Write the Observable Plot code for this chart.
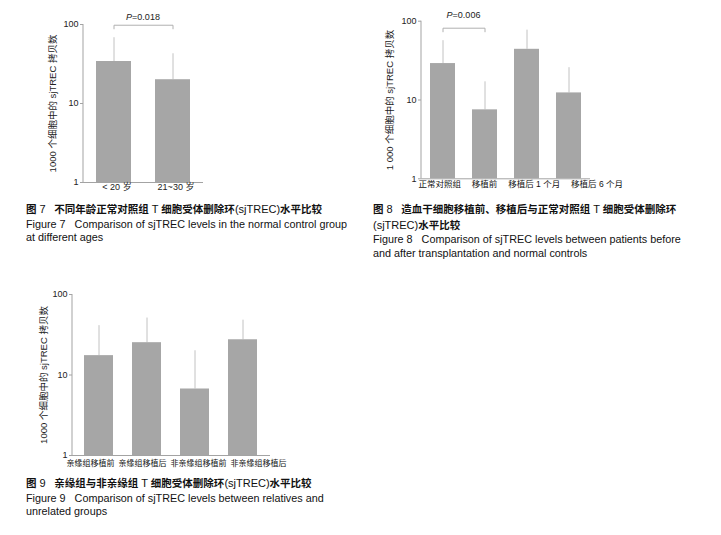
<!DOCTYPE html>
<html>
<head>
<meta charset="utf-8">
<script src="https://cdn.jsdelivr.net/npm/d3@7"></script>
<script src="https://cdn.jsdelivr.net/npm/@observablehq/plot@0.6"></script>
<style>
  html, body { margin: 0; padding: 0; background: #fff; }
  body { width: 721px; height: 535px; position: relative; overflow: hidden;
         font-family: "Liberation Sans", Arial, "Noto Sans CJK SC", sans-serif; color: #111; }
  .panel { position: absolute; }
  .cap { position: absolute; white-space: nowrap; }
  .cap .zh { font-size: 10.5px; font-weight: bold; line-height: 15.5px; }
  .cap .zh .n { font-weight: normal; font-size: 11px; }
  .cap .en { font-size: 10.8px; line-height: 13.75px; }
</style>
</head>
<body>
<div id="fig7" class="panel" style="left:0px; top:0px"></div>
<div class="cap" style="left:26px; top:202px">
  <div class="zh">图 <span class="n">7</span>&nbsp;&nbsp;&nbsp;不同年龄正常对照组 <span class="n">T</span> 细胞受体删除环<span class="n">(sjTREC)</span>水平比较</div>
  <div class="en">Figure 7&nbsp;&nbsp;&nbsp;Comparison of sjTREC levels in the normal control group<br>at different ages</div>
</div>

<div id="fig8" class="panel" style="left:360px; top:0px"></div>
<div class="cap" style="left:373px; top:202px">
  <div class="zh">图 <span class="n">8</span>&nbsp;&nbsp;&nbsp;造血干细胞移植前、移植后与正常对照组 <span class="n">T</span> 细胞受体删除环<br><span class="n">(sjTREC)</span>水平比较</div>
  <div class="en">Figure 8&nbsp;&nbsp;&nbsp;Comparison of sjTREC levels between patients before<br>and after transplantation and normal controls</div>
</div>

<div id="fig9" class="panel" style="left:0px; top:280px"></div>
<div class="cap" style="left:26px; top:476px">
  <div class="zh">图 <span class="n">9</span>&nbsp;&nbsp;&nbsp;亲缘组与非亲缘组 <span class="n">T</span> 细胞受体删除环<span class="n">(sjTREC)</span>水平比较</div>
  <div class="en">Figure 9&nbsp;&nbsp;&nbsp;Comparison of sjTREC levels between relatives and<br>unrelated groups</div>
</div>

<script>
// ---------- data ----------
const yTicks = [1, 10, 100];

const fig7Groups = ["< 20 岁", "21~30 岁"];
const fig7Mean   = [34, 20];
const fig7Upper  = [68, 42.6];
const fig7SigPair = ["< 20 岁", "21~30 岁"];
const fig7P = "0.018";
const fig7YLabel = "1000 个细胞中的 sjTREC 拷贝数";

const fig8Groups = ["正常对照组", "移植前", "移植后 1 个月", "移植后 6 个月"];
const fig8Mean   = [29, 7.5, 44, 12.3];
const fig8Upper  = [56.6, 17, 77, 25.7];
const fig8SigPair = ["正常对照组", "移植前"];
const fig8P = "0.006";
const fig8YLabel = "1 000 个细胞中的 sjTREC 拷贝数";

const fig9Groups = ["亲缘组移植前", "亲缘组移植后", "非亲缘组移植前", "非亲缘组移植后"];
const fig9Mean   = [17.4, 25.2, 6.7, 27.4];
const fig9Upper  = [41, 51, 20, 48];
const fig9YLabel = "1000 个细胞中的 sjTREC 拷贝数";

// ---------- styles ----------
const barColor = "#a6a6a6";
const errColor = "#c2c2c2";
const axisColor = "#a3a3a3";
const bracketColor = "#b0b0b0";
const fontFamily = '"Liberation Sans", Arial, "Noto Sans CJK SC", sans-serif';

function yAxisLine() {
  return (index, scales, values, dims) => {
    const x = dims.marginLeft;
    return d3.create("svg:line")
      .attr("x1", x).attr("x2", x)
      .attr("y1", dims.marginTop).attr("y2", dims.height - dims.marginBottom)
      .attr("stroke", axisColor).node();
  };
}

function sigText(pair, p, top, dy) {
  return (index, scales) => {
    const x = scales.x;
    const bw = x.bandwidth ? x.bandwidth() : 0;
    const xm = (x(pair[0]) + x(pair[1])) / 2 + bw / 2;
    const t = d3.create("svg:text")
      .attr("x", xm).attr("y", scales.y(top)).attr("dy", dy)
      .attr("text-anchor", "middle").attr("font-size", 9).attr("fill", "#222");
    t.append("tspan").attr("font-style", "italic").text("P");
    t.append("tspan").text("=" + p);
    return t.node();
  };
}

function panel(o) {
  const rows = o.groups.map((g, i) => ({group: g, mean: o.mean[i], upper: o.upper[i]}));
  const marks = [
    Plot.ruleX(rows, {x: "group", y1: "mean", y2: "upper", stroke: errColor}),
    Plot.barY(rows, {x: "group", y1: 1, y2: "mean", fill: barColor}),
    Plot.ruleY([1], {stroke: axisColor}),
    yAxisLine(),
    Plot.axisY(yTicks, {tickSize: 3, tickPadding: 2, tickFormat: d => String(d), fontSize: 9, stroke: axisColor, label: null}),
    Plot.text([o.yLabel], {frameAnchor: "left", textAnchor: "middle", rotate: -90, dx: o.yLabelDx, fontSize: 9.5, fill: "#222"})
  ];
  if (o.row) {
    marks.push(Plot.text([o.groups.join(o.row.sep)], {
      frameAnchor: "bottom-left", textAnchor: "start", dx: o.row.dx, dy: o.row.dy,
      fontSize: o.row.fontSize, fill: "#111"
    }));
  } else {
    marks.push(Plot.axisX({tickSize: 0, tickPadding: 1, fontSize: 9, dx: 3, label: null}));
  }
  if (o.sigPair) {
    const i0 = o.groups.indexOf(o.sigPair[0]), i1 = o.groups.indexOf(o.sigPair[1]);
    const top = Math.max(o.upper[i0], o.upper[i1]) * 1.44;
    const pts = [
      {x: o.sigPair[0], y: top * 0.9}, {x: o.sigPair[0], y: top},
      {x: o.sigPair[1], y: top}, {x: o.sigPair[1], y: top * 0.9}
    ];
    marks.push(Plot.line(pts, {x: "x", y: "y", stroke: bracketColor, strokeWidth: 1}));
    marks.push(sigText(o.sigPair, o.p, top, o.pDy));
  }
  return Plot.plot({
    width: o.width, height: o.height,
    marginTop: o.m[0], marginRight: o.m[1], marginBottom: o.m[2], marginLeft: o.m[3],
    style: {fontFamily, fontSize: "9px", color: "#222", background: "transparent", overflow: "visible"},
    x: {type: "band", domain: o.groups, paddingInner: o.pad[0], paddingOuter: o.pad[1], align: 0.5,
        label: null, axis: o.row ? null : undefined},
    y: {type: "log", domain: [1, 100], label: null, axis: null},
    marks
  });
}

document.getElementById("fig7").append(panel({
  groups: fig7Groups, mean: fig7Mean, upper: fig7Upper,
  sigPair: fig7SigPair, p: fig7P, pDy: -5,
  yLabel: fig7YLabel, yLabelDx: -31,
  width: 215, height: 200, m: [24, 12, 18, 83], pad: [0.41, 0.22]
}));

document.getElementById("fig8").append(panel({
  groups: fig8Groups, mean: fig8Mean, upper: fig8Upper,
  sigPair: fig8SigPair, p: fig8P, pDy: -10,
  yLabel: fig8YLabel, yLabelDx: -32,
  width: 280, height: 200, m: [20.7, 50, 21.7, 61], pad: [0.4, 0.21],
  row: {sep: "\u3000 ", dx: -3, dy: 8, fontSize: 8.5}
}));

document.getElementById("fig9").append(panel({
  groups: fig9Groups, mean: fig9Mean, upper: fig9Upper,
  yLabel: fig9YLabel, yLabelDx: -29,
  width: 300, height: 195, m: [14, 30, 20, 72], pad: [0.39, 0.22],
  row: {sep: "\u2002", dx: -6, dy: 10, fontSize: 8}
}));
</script>
</body>
</html>
